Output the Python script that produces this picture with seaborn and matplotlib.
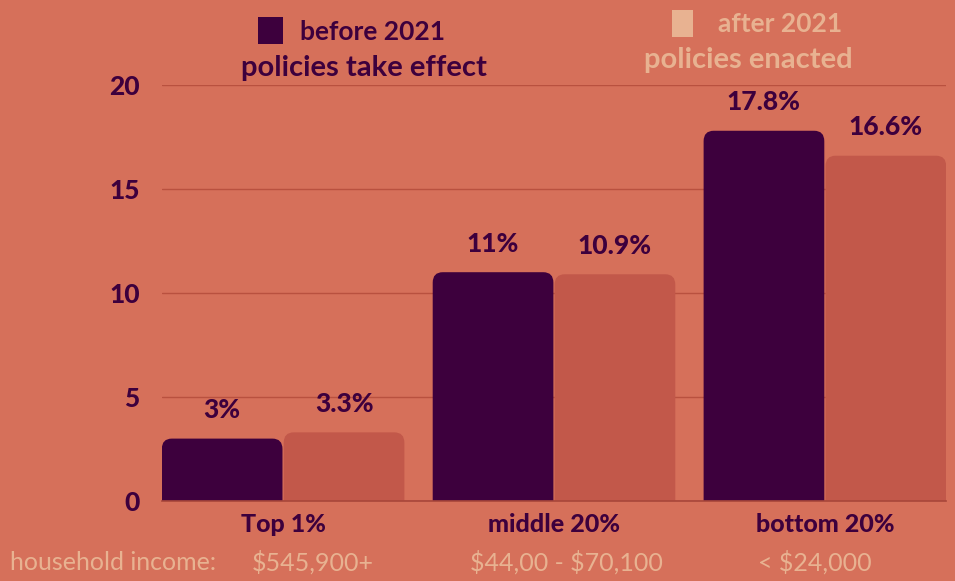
import matplotlib

matplotlib.use("Agg")
import matplotlib.pyplot as plt
import pandas as pd
import seaborn as sns
from matplotlib.patches import FancyBboxPatch, Rectangle

# data
categories = ["Top 1%", "middle 20%", "bottom 20%"]
before_2021 = [3.0, 11.0, 17.8]
after_2021 = [3.3, 10.9, 16.6]
value_labels_before = ["3%", "11%", "17.8%"]
value_labels_after = ["3.3%", "10.9%", "16.6%"]
income_labels = [r"\$545,900+", r"\$44,00 - \$70,100", r"< \$24,000"]
y_ticks = [0, 5, 10, 15, 20]

BG = "#D6705A"
DARK = "#3D003D"
RUST = "#C2584A"
LIGHT = "#E8B291"
GRID = "#B9513F"

df = pd.DataFrame(
    {
        "group": categories * 2,
        "period": ["before"] * 3 + ["after"] * 3,
        "value": before_2021 + after_2021,
    }
)

sns.set_theme(style="white")
plt.rcParams["font.family"] = ["Lato", "DejaVu Sans"]

fig = plt.figure(figsize=(9.55, 5.81), dpi=100, facecolor=BG)
ax = fig.add_axes([162 / 955, 1 - 501 / 581, (946 - 162) / 955, (501 - 85) / 581])
ax.set_facecolor(BG)

sns.barplot(
    data=df,
    x="group",
    y="value",
    hue="period",
    palette={"before": DARK, "after": RUST},
    width=0.9,
    gap=0.01,
    saturation=1,
    legend=False,
    ax=ax,
)

ax.set_ylim(0, 20)
ax.set_xlim(-0.447, 2.447)

# swap the plain bars for rounded ones, keeping the seaborn geometry
rx = 0.037
ry = 0.5
for bar in list(ax.patches):
    x0, w, h = bar.get_x(), bar.get_width(), bar.get_height()
    fb = FancyBboxPatch(
        (x0, -ry * 2),
        w,
        h + ry * 2,
        boxstyle=f"round,pad=0,rounding_size={rx}",
        mutation_aspect=ry / rx,
        facecolor=bar.get_facecolor(),
        edgecolor="none",
        zorder=2,
    )
    ax.add_patch(fb)
    bar.set_visible(False)

for cont, labels in zip(ax.containers, [value_labels_before, value_labels_after]):
    ax.bar_label(
        cont, labels=labels, padding=12, fontsize=19, fontweight="black", color=DARK
    )

ax.set_yticks(y_ticks)
ax.yaxis.grid(True, color=GRID, linewidth=1)
ax.set_axisbelow(True)
for s in ["left", "right", "top"]:
    ax.spines[s].set_visible(False)
ax.spines["bottom"].set_color("#A8463A")
ax.spines["bottom"].set_linewidth(1.2)
ax.tick_params(axis="y", length=0, pad=16, labelsize=19, labelcolor=DARK)
ax.tick_params(axis="x", length=0, pad=9, labelsize=18, labelcolor=DARK)
for t in ax.get_yticklabels() + ax.get_xticklabels():
    t.set_fontweight("black")
ax.set_xlabel("")
ax.set_ylabel("")

# legend drawn by hand, like the reference
fig.add_artist(
    Rectangle((258 / 955, 1 - 44 / 581), 25 / 955, 27 / 581, transform=fig.transFigure,
              facecolor=DARK, edgecolor="none")
)
fig.text(300 / 955, 1 - 32 / 581, "before 2021", fontsize=19, fontweight="bold",
         color=DARK, va="center", ha="left")
fig.text(364 / 955, 1 - 68 / 581, "policies take effect", fontsize=21,
         fontweight="bold", color=DARK, va="center", ha="center")

fig.add_artist(
    Rectangle((672 / 955, 1 - 37 / 581), 21 / 955, 27 / 581, transform=fig.transFigure,
              facecolor=LIGHT, edgecolor="none")
)
fig.text(718 / 955, 1 - 24 / 581, "after 2021", fontsize=19, fontweight="bold",
         color=LIGHT, va="center", ha="left")
fig.text(748 / 955, 1 - 60 / 581, "policies enacted", fontsize=21,
         fontweight="bold", color=LIGHT, va="center", ha="center")

# household income row
fig.text(10 / 955, 1 - 562 / 581, "household income:", fontsize=18, color=LIGHT,
         va="center", ha="left")
for cx, lab in zip([313, 566, 815], income_labels):
    fig.text(cx / 955, 1 - 562 / 581, lab, fontsize=18, color=LIGHT,
             va="center", ha="center")

fig.savefig("out.png", dpi=100, facecolor=BG)
